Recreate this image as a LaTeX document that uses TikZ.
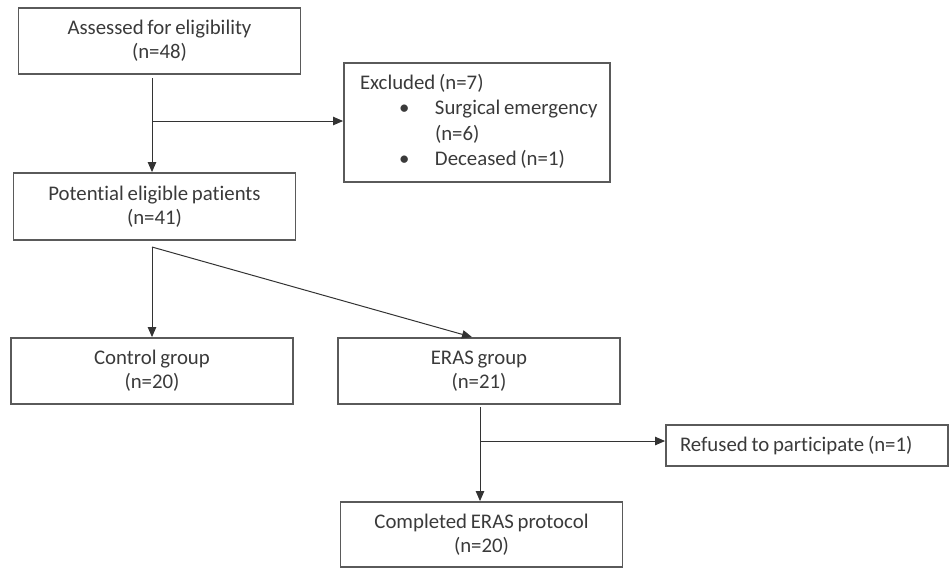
\documentclass[tikz,border=0pt]{standalone}
\usepackage{fontspec}
\setmainfont{Carlito}[RawFeature=-liga, WordSpace=0.8]
\usetikzlibrary{arrows.meta}
\definecolor{boxline}{HTML}{5A5A5A}
\definecolor{txt}{HTML}{3A3A3A}
\tikzset{
    box/.style={draw=boxline, line width=0.9pt, minimum width=141pt, minimum height=33pt,
        inner sep=2pt, align=center, text=txt, font=\fontsize{10.4}{12}\selectfont},
    arr/.style={-{Triangle[length=5pt,width=4.2pt]}, line width=0.5pt, draw=black!80}
}
\newcommand{\bulletitem}[1]{\makebox[37.5pt][l]{\hspace*{19.5pt}\textbullet}#1}
\begin{document}
\begin{tikzpicture}[x=0.5pt,y=-0.5pt]
        \useasboundingbox (0,0) rectangle (951,570);
        % boxes
            \node[box] (assess) at (159.5,41) {Assessed for eligibility\\(n=48)};
            \node[box, minimum width=133pt, minimum height=59.5pt, inner xsep=8pt]
                (excl) at (477,122.5) {\makebox[117pt][l]{\renewcommand{\arraystretch}{1.05}%
                \raisebox{-2.5pt}{\begin{tabular}{@{}l@{}}
                Excluded (n=7)\\
                \bulletitem{Surgical emergency}\\
                \hspace*{37.5pt}(n=6)\\
                \bulletitem{Deceased (n=1)}
                \end{tabular}}}};
            \node[box, minimum height=33.5pt] (potential) at (154.5,206.5) {Potential eligible patients\\(n=41)};
            \node[box] (control) at (152,371) {Control group\\(n=20)};
            \node[box] (eras) at (479,371) {ERAS group\\(n=21)};
            \node[box, minimum height=20.5pt, inner xsep=7pt]
                (refused) at (807,445.5) {\makebox[127pt][l]{Refused to participate (n=1)}};
            \node[box, minimum height=32.5pt] (completed) at (481.5,534.5) {Completed ERAS protocol\\(n=20)};
        % junctions
            \coordinate (top1) at (152,78);
            \coordinate (split1) at (152,121);
            \coordinate (top2) at (152,247);
            \coordinate (top3) at (480,407);
            \coordinate (split3) at (480,441);
        % arrows
            \draw[arr] (top1) -- (top1 |- potential.north);
            \draw[arr] (split1) -- (split1 -| excl.west);
            \draw[arr] (top2) -- (top2 |- control.north);
            \draw[arr] (top2) -- ([xshift=-3.5pt]eras.north);
            \draw[arr] (top3) -- (top3 |- completed.north);
            \draw[arr] (split3) -- (split3 -| refused.west);
\end{tikzpicture}
\end{document}
